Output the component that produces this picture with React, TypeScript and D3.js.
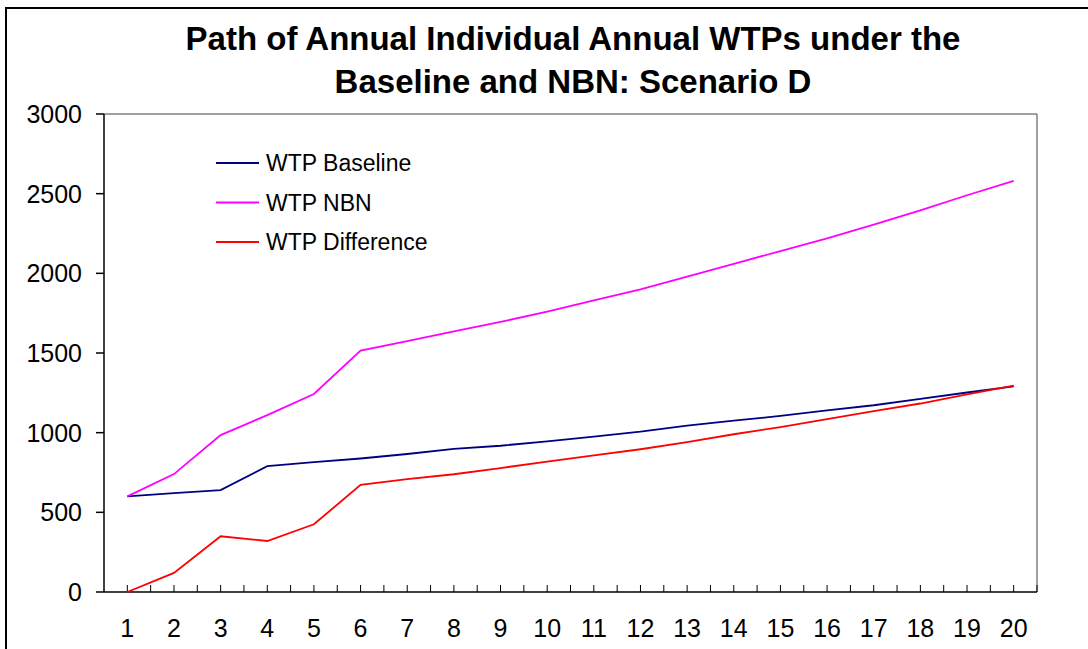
import React from 'react';
import * as d3 from 'd3';

const years = d3.range(1, 21).map(String);
const wtpBaseline = [600, 620, 640, 790, 815, 838, 866, 898, 918, 946, 975, 1006, 1044, 1075, 1105, 1140, 1172, 1212, 1252, 1290];
const wtpNbn = [600, 740, 985, 1110, 1243, 1515, 1575, 1635, 1695, 1760, 1830, 1900, 1980, 2060, 2140, 2220, 2305, 2395, 2490, 2580];
const wtpDiff = [0, 120, 350, 320, 425, 672, 709, 739, 778, 818, 858, 896, 940, 990, 1035, 1085, 1135, 1183, 1240, 1295];
const yTicks = [0, 500, 1000, 1500, 2000, 2500, 3000];

const seriesList = [
  { name: 'WTP Baseline', values: wtpBaseline, color: '#000080' },
  { name: 'WTP NBN', values: wtpNbn, color: '#FF00FF' },
  { name: 'WTP Difference', values: wtpDiff, color: '#FF0000' },
];

const W = 1088;
const H = 649;
const margin = { left: 104, top: 114, right: 1037, bottom: 592 };
const font = 'Arial, "Liberation Sans", sans-serif';

const App = () => {
  const x = d3.scaleBand().domain(years).range([margin.left, margin.right]);
  const y = d3.scaleLinear().domain([0, 3000]).range([margin.bottom, margin.top]);
  const cx = (d: string) => (x(d) as number) + x.bandwidth() / 2;

  const line = d3.line<number>()
    .x((_, i) => cx(years[i]))
    .y(v => y(v));

  // ticks at both category centres and boundaries, pointing inside
  const xTickPos: number[] = [];
  years.forEach((d, i) => {
    if (i > 0) xTickPos.push(x(d) as number);
    xTickPos.push(cx(d));
  });
  xTickPos.push(margin.right);

  return (
    <svg width={W} height={H} style={{ position: 'absolute', left: 0, top: 0, background: '#fff' }}>
      <rect x={6} y={8} width={W + 20} height={H + 20} fill="#fff" stroke="#000" strokeWidth={2} />

      <text x={573} y={50} textAnchor="middle" fontFamily={font} fontWeight="bold" fontSize={33}>
        Path of Annual Individual Annual WTPs under the
      </text>
      <text x={573} y={93} textAnchor="middle" fontFamily={font} fontWeight="bold" fontSize={33}>
        Baseline and NBN: Scenario D
      </text>

      {/* plot frame */}
      <line x1={margin.left} x2={margin.right} y1={margin.top} y2={margin.top} stroke="#808080" strokeWidth={1.5} />
      <line x1={margin.right} x2={margin.right} y1={margin.top} y2={margin.bottom} stroke="#808080" strokeWidth={1.5} />

      {/* y axis */}
      <line x1={margin.left} x2={margin.left} y1={margin.top} y2={margin.bottom} stroke="#000" strokeWidth={1.5} />
      {yTicks.map(t => (
        <g key={t}>
          <line x1={margin.left - 8} x2={margin.left} y1={y(t)} y2={y(t)} stroke="#000" strokeWidth={1.5} />
          <text x={82} y={y(t)} dy="0.36em" textAnchor="end" fontFamily={font} fontSize={25}>{t}</text>
        </g>
      ))}

      {/* x axis */}
      <line x1={margin.left} x2={margin.right} y1={margin.bottom} y2={margin.bottom} stroke="#000" strokeWidth={1.5} />
      {xTickPos.map((p, i) => (
        <line key={i} x1={p} x2={p} y1={margin.bottom - 7} y2={margin.bottom} stroke="#000" strokeWidth={1} />
      ))}
      {years.map(d => (
        <text key={d} x={cx(d)} y={637} textAnchor="middle" fontFamily={font} fontSize={25}>{d}</text>
      ))}

      {seriesList.map(s => (
        <path key={s.name} d={line(s.values) as string} fill="none" stroke={s.color} strokeWidth={1.8} />
      ))}

      {/* legend */}
      {seriesList.map((s, i) => (
        <g key={s.name} transform={`translate(216,${163 + i * 39.5})`}>
          <line x1={0} x2={43} y1={0} y2={0} stroke={s.color} strokeWidth={1.8} />
          <text x={50} y={0} dy="0.36em" fontFamily={font} fontSize={23}>{s.name}</text>
        </g>
      ))}
    </svg>
  );
};

export default App;
